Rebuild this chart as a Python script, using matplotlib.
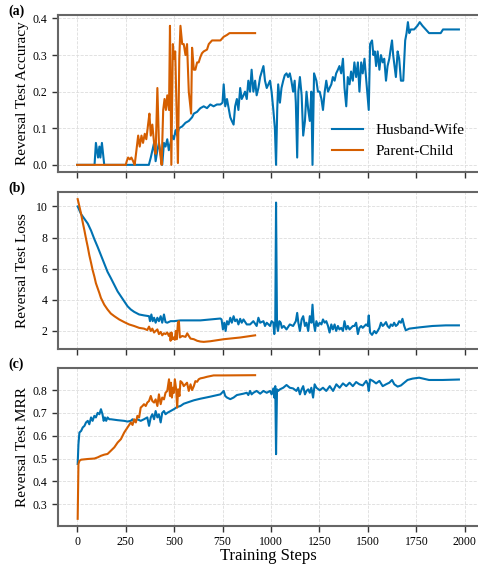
import matplotlib
matplotlib.use("Agg")
import matplotlib.pyplot as plt

plt.rcParams["font.family"] = ["Liberation Serif", "DejaVu Serif"]

BLUE, ORANGE = "#0072B2", "#D55E00"
LABELS = ["Husband-Wife", "Parent-Child"]

# (a) reversal test accuracy
hw_acc_steps = [0, 90, 97, 108, 115, 120, 128, 140, 370, 380, 397, 405, 414, 422, 431, 439, 448, 456, 465, 473, 482, 491, 499, 508, 516, 525, 542, 559, 576, 593, 602, 619, 627, 636, 653, 670, 687, 704, 721, 739, 750, 756, 764, 773, 790, 798, 807, 815, 824, 832, 841, 849, 858, 866, 875, 883, 892, 900, 909, 918, 926, 935, 944, 961, 969, 978, 995, 1003, 1012, 1020, 1026, 1032, 1037, 1046, 1054, 1063, 1071, 1080, 1088, 1097, 1105, 1114, 1122, 1128, 1135, 1141, 1149, 1158, 1166, 1175, 1183, 1192, 1200, 1208, 1214, 1222, 1234, 1242, 1251, 1260, 1268, 1277, 1285, 1294, 1302, 1311, 1319, 1328, 1336, 1345, 1353, 1362, 1371, 1379, 1388, 1396, 1405, 1413, 1422, 1430, 1439, 1448, 1456, 1465, 1473, 1482, 1490, 1504, 1511, 1521, 1528, 1535, 1542, 1550, 1559, 1567, 1576, 1584, 1593, 1601, 1610, 1618, 1624, 1630, 1637, 1644, 1653, 1661, 1670, 1682, 1692, 1699, 1706, 1713, 1721, 1738, 1755, 1767, 1781, 1798, 1815, 1875, 1887, 1969]
hw_acc = [0, 0, 0.06, 0.02, 0.05, 0.02, 0.06, 0, 0, 0.02, 0.06, 0.01, 0.04, 0.06, 0.03, 0, 0.06, 0.05, 0.07, 0.04, 0.06, 0.08, 0.07, 0.095, 0.08, 0.10, 0.105, 0.115, 0.12, 0.13, 0.14, 0.145, 0.15, 0.155, 0.16, 0.155, 0.165, 0.16, 0.165, 0.165, 0.17, 0.22, 0.16, 0.18, 0.13, 0.12, 0.11, 0.16, 0.18, 0.15, 0.21, 0.18, 0.19, 0.20, 0.18, 0.23, 0.20, 0.26, 0.20, 0.23, 0.19, 0.21, 0.24, 0.27, 0.23, 0.21, 0.23, 0.20, 0.15, 0.10, 0.0, 0.15, 0.22, 0.17, 0.21, 0.23, 0.245, 0.25, 0.24, 0.25, 0.23, 0.20, 0.23, 0.17, 0.02, 0.20, 0.24, 0.19, 0.08, 0.12, 0.20, 0.15, 0.12, 0.20, 0.0, 0.25, 0.23, 0.20, 0.20, 0.18, 0.15, 0.20, 0.23, 0.20, 0.21, 0.22, 0.24, 0.23, 0.25, 0.26, 0.27, 0.25, 0.29, 0.21, 0.16, 0.24, 0.22, 0.255, 0.23, 0.28, 0.24, 0.28, 0.20, 0.28, 0.25, 0.29, 0.24, 0.15, 0.33, 0.34, 0.30, 0.31, 0.27, 0.31, 0.26, 0.30, 0.28, 0.29, 0.23, 0.27, 0.29, 0.32, 0.34, 0.30, 0.27, 0.24, 0.31, 0.29, 0.23, 0.23, 0.34, 0.36, 0.39, 0.36, 0.37, 0.37, 0.38, 0.39, 0.38, 0.37, 0.36, 0.36, 0.37, 0.37]
pc_acc_steps = [0, 251, 256, 263, 272, 280, 289, 297, 306, 315, 323, 332, 340, 349, 357, 366, 373, 380, 388, 397, 405, 414, 422, 431, 436, 444, 451, 458, 465, 474, 479, 486, 494, 499, 506, 513, 520, 527, 533, 542, 550, 559, 567, 576, 588, 593, 602, 610, 619, 627, 636, 644, 653, 670, 679, 696, 739, 756, 773, 786, 918]
pc_acc = [0, 0, 0.01, 0.02, 0.015, 0.02, 0.01, 0.0, 0.04, 0.08, 0.05, 0.08, 0.06, 0.085, 0.07, 0.11, 0.14, 0.08, 0.11, 0.06, 0.03, 0.21, 0.06, 0.02, 0.0, 0.15, 0.18, 0.15, 0.19, 0.15, 0.38, 0.0, 0.33, 0.29, 0.31, 0.15, 0.005, 0.29, 0.38, 0.33, 0.33, 0.30, 0.33, 0.20, 0.14, 0.32, 0.26, 0.26, 0.28, 0.28, 0.295, 0.305, 0.31, 0.315, 0.33, 0.34, 0.34, 0.35, 0.355, 0.36, 0.36]

# (b) reversal test loss
hw_loss_steps = [3, 21, 38, 55, 72, 89, 106, 123, 140, 157, 174, 192, 209, 226, 243, 260, 277, 294, 320, 345, 371, 376, 383, 390, 397, 405, 414, 422, 431, 439, 448, 456, 465, 482, 499, 533, 567, 636, 687, 739, 745, 752, 759, 766, 773, 781, 790, 798, 807, 815, 824, 832, 841, 849, 858, 875, 892, 909, 926, 935, 944, 961, 969, 978, 995, 1003, 1012, 1017, 1022, 1026, 1031, 1036, 1043, 1050, 1056, 1066, 1080, 1097, 1114, 1128, 1135, 1141, 1149, 1158, 1166, 1175, 1183, 1192, 1200, 1208, 1214, 1220, 1227, 1234, 1242, 1251, 1260, 1268, 1277, 1285, 1294, 1302, 1311, 1319, 1328, 1336, 1345, 1353, 1362, 1371, 1379, 1388, 1396, 1405, 1413, 1422, 1430, 1439, 1448, 1456, 1465, 1473, 1482, 1490, 1499, 1504, 1511, 1521, 1533, 1542, 1550, 1559, 1567, 1576, 1584, 1593, 1601, 1610, 1618, 1627, 1635, 1644, 1653, 1661, 1670, 1678, 1687, 1695, 1713, 1764, 1832, 1901, 1969]
hw_loss = [10.0, 9.5, 9.2, 8.9, 8.45, 7.9, 7.4, 6.87, 6.34, 5.8, 5.4, 4.96, 4.54, 4.22, 3.9, 3.59, 3.38, 3.23, 3.06, 3.0, 2.95, 2.63, 3.06, 2.63, 2.85, 2.53, 2.85, 2.63, 2.95, 2.53, 3.06, 2.57, 2.53, 2.63, 2.63, 2.68, 2.68, 2.68, 2.74, 2.8, 2.74, 2.1, 2.53, 2.0, 2.63, 2.42, 2.85, 2.53, 2.95, 2.63, 2.74, 2.42, 2.78, 2.53, 2.74, 2.42, 2.42, 2.63, 2.32, 2.85, 2.53, 2.63, 2.32, 2.53, 2.32, 2.63, 2.53, 1.8, 2.63, 10.25, 2.32, 2.0, 2.63, 2.53, 2.2, 2.32, 2.1, 2.42, 2.32, 2.63, 3.16, 2.53, 2.0, 2.74, 2.95, 2.32, 2.53, 2.0, 2.95, 2.53, 3.69, 2.53, 2.0, 2.63, 2.32, 2.53, 2.42, 2.74, 2.53, 2.63, 2.32, 1.9, 2.42, 2.1, 2.42, 2.0, 2.32, 2.1, 2.2, 2.0, 2.63, 2.1, 2.32, 2.1, 2.2, 2.32, 2.32, 2.53, 1.8, 2.2, 2.32, 2.2, 2.32, 2.42, 2.32, 3.0, 1.9, 1.75, 2.0, 1.85, 2.0, 2.2, 2.53, 2.32, 2.42, 2.57, 2.32, 2.2, 2.42, 2.32, 2.53, 2.32, 2.42, 2.63, 2.53, 2.78, 2.32, 2.04, 2.15, 2.23, 2.32, 2.36, 2.36]
pc_loss_steps = [3, 12, 21, 29, 38, 46, 55, 63, 72, 80, 89, 97, 106, 115, 123, 140, 157, 174, 192, 217, 243, 268, 294, 320, 345, 362, 371, 380, 388, 397, 405, 414, 422, 431, 439, 448, 456, 465, 473, 479, 482, 487, 492, 499, 504, 509, 514, 520, 525, 530, 542, 559, 568, 576, 585, 602, 619, 636, 653, 687, 756, 841, 918]
pc_loss = [10.47, 10.0, 9.5, 8.98, 8.45, 7.93, 7.4, 6.87, 6.38, 5.92, 5.5, 5.07, 4.75, 4.43, 4.12, 3.69, 3.38, 3.12, 2.95, 2.74, 2.57, 2.42, 2.32, 2.2, 2.15, 2.06, 2.28, 2.0, 2.15, 1.9, 2.0, 2.1, 1.8, 1.94, 1.72, 1.85, 1.8, 1.9, 1.68, 1.85, 1.37, 1.9, 1.47, 1.58, 1.43, 2.0, 1.47, 2.53, 2.63, 1.58, 1.68, 1.62, 1.85, 1.68, 1.51, 1.47, 1.37, 1.32, 1.3, 1.34, 1.47, 1.58, 1.72]

# (c) reversal test MRR
hw_mrr_steps = [3, 7, 12, 21, 29, 38, 46, 55, 63, 72, 80, 89, 97, 106, 115, 123, 131, 137, 143, 150, 157, 166, 174, 209, 243, 260, 277, 286, 294, 311, 328, 345, 362, 371, 380, 388, 397, 405, 414, 422, 431, 439, 448, 456, 465, 482, 499, 516, 533, 550, 567, 585, 602, 636, 687, 739, 756, 764, 773, 790, 807, 824, 841, 858, 875, 883, 892, 900, 909, 926, 944, 961, 978, 995, 1003, 1012, 1017, 1022, 1026, 1031, 1037, 1046, 1063, 1080, 1097, 1114, 1131, 1140, 1149, 1158, 1166, 1175, 1183, 1192, 1200, 1208, 1217, 1225, 1234, 1251, 1268, 1285, 1303, 1320, 1337, 1354, 1371, 1388, 1405, 1422, 1439, 1456, 1473, 1491, 1499, 1504, 1511, 1525, 1542, 1559, 1576, 1593, 1610, 1624, 1636, 1653, 1670, 1687, 1704, 1730, 1764, 1815, 1884, 1969]
hw_mrr = [0.476, 0.563, 0.614, 0.621, 0.636, 0.643, 0.658, 0.665, 0.65, 0.68, 0.665, 0.687, 0.68, 0.70, 0.694, 0.716, 0.694, 0.665, 0.68, 0.665, 0.68, 0.672, 0.672, 0.668, 0.665, 0.662, 0.665, 0.672, 0.662, 0.672, 0.665, 0.672, 0.68, 0.643, 0.68, 0.694, 0.672, 0.708, 0.68, 0.694, 0.658, 0.70, 0.708, 0.694, 0.70, 0.708, 0.716, 0.726, 0.73, 0.74, 0.745, 0.75, 0.755, 0.762, 0.771, 0.781, 0.796, 0.774, 0.767, 0.76, 0.767, 0.778, 0.781, 0.784, 0.788, 0.778, 0.796, 0.781, 0.788, 0.796, 0.784, 0.796, 0.788, 0.796, 0.781, 0.807, 0.767, 0.817, 0.519, 0.803, 0.796, 0.803, 0.81, 0.822, 0.81, 0.807, 0.796, 0.81, 0.781, 0.803, 0.817, 0.781, 0.796, 0.803, 0.788, 0.81, 0.767, 0.825, 0.81, 0.799, 0.81, 0.796, 0.817, 0.796, 0.825, 0.81, 0.829, 0.817, 0.832, 0.817, 0.835, 0.825, 0.82, 0.84, 0.825, 0.796, 0.846, 0.84, 0.829, 0.84, 0.817, 0.825, 0.832, 0.844, 0.825, 0.815, 0.82, 0.832, 0.844, 0.85, 0.854, 0.844, 0.844, 0.846]
pc_mrr_steps = [3, 7, 12, 21, 55, 89, 106, 123, 140, 157, 174, 192, 209, 226, 243, 260, 277, 286, 294, 303, 311, 320, 328, 337, 345, 354, 362, 371, 380, 388, 397, 405, 414, 422, 431, 439, 448, 456, 465, 474, 479, 484, 489, 494, 499, 504, 511, 516, 521, 528, 533, 542, 550, 559, 567, 576, 585, 593, 602, 610, 619, 627, 636, 653, 670, 704, 756, 918]
pc_mrr = [0.236, 0.476, 0.49, 0.495, 0.498, 0.50, 0.505, 0.512, 0.517, 0.52, 0.534, 0.549, 0.57, 0.585, 0.614, 0.636, 0.658, 0.647, 0.672, 0.658, 0.687, 0.68, 0.723, 0.73, 0.738, 0.73, 0.745, 0.752, 0.774, 0.752, 0.745, 0.759, 0.73, 0.781, 0.738, 0.767, 0.759, 0.788, 0.796, 0.847, 0.774, 0.832, 0.767, 0.81, 0.788, 0.847, 0.803, 0.723, 0.803, 0.774, 0.839, 0.832, 0.817, 0.825, 0.832, 0.796, 0.825, 0.80, 0.817, 0.839, 0.836, 0.847, 0.851, 0.854, 0.858, 0.864, 0.864, 0.865]

panels = [
    ("(a)", "Reversal Test Accuracy", hw_acc_steps, hw_acc, pc_acc_steps, pc_acc),
    ("(b)", "Reversal Test Loss", hw_loss_steps, hw_loss, pc_loss_steps, pc_loss),
    ("(c)", "Reversal Test MRR", hw_mrr_steps, hw_mrr, pc_mrr_steps, pc_mrr),
]

fig = plt.figure(figsize=(4.78, 5.64), dpi=100)
W, H = 478, 564
# (top, bottom) of each axes in pixels
boxes = [(15, 172), (192, 349), (368, 526)]
axes = []
for i, ((tag, ylab, xs1, ys1, xs2, ys2), (top, bot)) in enumerate(zip(panels, boxes)):
    ax = fig.add_axes([58 / W, 1 - bot / H, 1 - 58 / W, (bot - top) / H],
                      sharex=axes[0] if axes else None)
    ax.plot(xs1, ys1, color=BLUE, lw=1.5, label=LABELS[0])
    ax.plot(xs2, ys2, color=ORANGE, lw=1.5, label=LABELS[1])
    ax.set_ylabel(ylab, fontsize=11)
    ax.yaxis.set_label_coords(-0.068, 0.5)
    ax.grid(True, ls="--", lw=0.6, color="#dddddd")
    ax.set_axisbelow(True)
    for s in ["top", "bottom", "left"]:
        ax.spines[s].set_color("#666666")
        ax.spines[s].set_linewidth(1.5)
    ax.spines["right"].set_visible(False)
    ax.tick_params(direction="out", length=4, width=1, labelsize=8.5, color="#333333")
    fig.text(8 / W, 1 - (top - 4) / H, tag, fontsize=10, fontweight="bold", va="center")
    if i < 2:
        ax.tick_params(labelbottom=False)
    axes.append(ax)

axes[0].set_yticks([0.0, 0.1, 0.2, 0.3, 0.4])
axes[1].set_yticks([2, 4, 6, 8, 10])
axes[2].set_yticks([0.3, 0.4, 0.5, 0.6, 0.7, 0.8])
axes[2].set_xticks([0, 250, 500, 750, 1000, 1250, 1500, 1750, 2000])
axes[2].set_xlabel("Training Steps", fontsize=12, labelpad=0)
axes[0].legend(loc="lower right", bbox_to_anchor=(1.0, 0.0), frameon=False,
               fontsize=11, handlelength=2.0)

fig.savefig("out.png", dpi=100)
